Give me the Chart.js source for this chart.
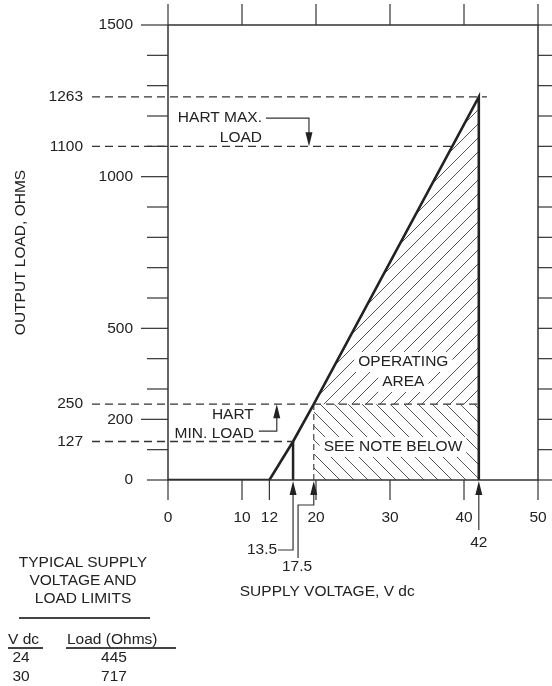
<!DOCTYPE html>
<html>
<head>
<meta charset="utf-8">
<script src="https://cdn.jsdelivr.net/npm/chart.js@4.4.1/dist/chart.umd.min.js"></script>
<style>
  html, body { margin: 0; padding: 0; background: #fff; }
  #wrap { position: relative; width: 552px; height: 686px; font-family: 'Liberation Sans', Arial, sans-serif; color: #222; }
  #wrap canvas { position: absolute; left: 0; top: 0; }
  .t { position: absolute; font-size: 15.5px; line-height: 18px; white-space: nowrap; }
  .rule { position: absolute; background: #444; height: 1.5px; }
</style>
</head>
<body>
<div id="wrap">
  <canvas id="chart" width="552" height="686"></canvas>
</div>
<script>
// The source drawing is not to scale: break points are placed where they sit on the
// voltage axis, the printed values go in the tick / marker label arrays.
const xTickValues = [0, 10, 13.7, 20, 30, 40, 50]
const xTickLabels = ['0', '10', '12', '20', '30', '40', '50']
const yTickValues = [0, 200, 500, 1000, 1500]
const refOhms = [127, 250, 1100, 1263]
const refEndVolts = [16.9, 42, 38.5, 43.1]

const loadVolts = [0, 13.7, 16.9, 19.7, 42, 42]
const loadOhms = [0, 0, 127, 250, 1263, 0]

const markerVolts = [16.9, 19.7, 42]
const markerLabels = ['13.5', '17.5', '42']

const hartMinOhms = 250
const hartMaxOhms = 1100
const minLoadOhms = 127

const tableVolts = ['24', '30']
const tableLoads = ['445', '717']

const FONT = "'Liberation Sans', Arial, sans-serif"
const INK = '#222'

Chart.defaults.font.family = FONT
Chart.defaults.font.size = 15.5
Chart.defaults.color = INK

function hatch(dir) {
  const s = 14
  const c = document.createElement('canvas')
  c.width = s
  c.height = s
  const g = c.getContext('2d')
  g.strokeStyle = '#555'
  g.lineWidth = 1
  g.beginPath()
  if (dir === '/') {
    g.moveTo(0, s); g.lineTo(s, 0)
    g.moveTo(-1, 1); g.lineTo(1, -1)
    g.moveTo(s - 1, s + 1); g.lineTo(s + 1, s - 1)
  } else {
    g.moveTo(0, 0); g.lineTo(s, s)
    g.moveTo(-1, s - 1); g.lineTo(1, s + 1)
    g.moveTo(s - 1, -1); g.lineTo(s + 1, 1)
  }
  g.stroke()
  return g.createPattern(c, 'repeat')
}

const pts = (xs, ys) => xs.map((v, i) => ({ x: v, y: ys[i] }))
const hartIdx = loadOhms.indexOf(hartMinOhms)
const topIdx = loadOhms.indexOf(Math.max(...loadOhms))

const datasets = [
  {
    id: 'opArea',
    data: pts(loadVolts.slice(hartIdx, topIdx + 1), loadOhms.slice(hartIdx, topIdx + 1)),
    fill: { value: hartMinOhms },
    backgroundColor: hatch('/'),
    borderWidth: 0,
    order: 11,
  },
  {
    id: 'noteArea',
    data: pts([loadVolts[hartIdx], loadVolts[topIdx]], [hartMinOhms, hartMinOhms]),
    fill: 'origin',
    backgroundColor: hatch('\\'),
    borderWidth: 0,
    order: 10,
  },
  {
    id: 'minLoad',
    data: pts([markerVolts[0], markerVolts[0]], [0, minLoadOhms]),
    borderColor: INK,
    borderWidth: 2.5,
    order: 1,
  },
  {
    id: 'hartLine',
    data: pts([markerVolts[1], markerVolts[1]], [0, hartMinOhms]),
    borderColor: '#444',
    borderWidth: 1.2,
    borderDash: [6, 4],
    order: 1,
  },
  {
    id: 'load',
    data: pts(loadVolts, loadOhms),
    borderColor: INK,
    borderWidth: 2.6,
    borderJoinStyle: 'miter',
    order: 0,
  },
]

function text(ctx, s, x, y, align, clear) {
  ctx.font = '15.5px ' + FONT
  ctx.textBaseline = 'middle'
  ctx.textAlign = align || 'center'
  if (clear) {
    const w = ctx.measureText(s).width
    const x0 = align === 'right' ? x - w : align === 'left' ? x : x - w / 2
    ctx.fillStyle = '#fff'
    ctx.fillRect(x0 - 4, y - 10, w + 8, 20)
  }
  ctx.fillStyle = INK
  ctx.fillText(s, x, y)
}

function line(ctx, path, width, dash) {
  ctx.save()
  ctx.strokeStyle = '#333'
  ctx.lineWidth = width
  ctx.setLineDash(dash || [])
  ctx.beginPath()
  path.forEach(([px, py], i) => (i ? ctx.lineTo(px, py) : ctx.moveTo(px, py)))
  ctx.stroke()
  ctx.restore()
}

function arrow(ctx, x, tip, dir) {
  ctx.fillStyle = INK
  ctx.beginPath()
  ctx.moveTo(x, tip)
  ctx.lineTo(x - 3.5, tip + dir * 14)
  ctx.lineTo(x + 3.5, tip + dir * 14)
  ctx.closePath()
  ctx.fill()
}

// axes keep the exact box given by afterFit, no extra room for overhanging labels
function noOverhang(s) {
  s.paddingTop = 0
  s.paddingBottom = 0
  s.paddingLeft = 0
  s.paddingRight = 0
}

const overlay = {
  id: 'overlay',
  afterDatasetsDraw(chart) {
    const { ctx, chartArea: a, scales } = chart
    const px = (v) => scales.x.getPixelForValue(v)
    const py = (r) => scales.y.getPixelForValue(r)
    ctx.save()

    // frame and tick marks
    line(ctx, [[a.left, a.top], [a.right, a.top], [a.right, a.bottom], [a.left, a.bottom], [a.left, a.top]], 1.5)
    for (let r = scales.y.min; r <= scales.y.max; r += 100) {
      const long = yTickValues.includes(r) && r !== 0
      line(ctx, [[a.left - (long ? 27 : 21), py(r)], [a.left, py(r)]], 1.2)
      line(ctx, [[a.right, py(r)], [a.right + 14, py(r)]], 1.2)
    }
    for (let v = scales.x.min; v <= scales.x.max; v += 10) {
      line(ctx, [[px(v), a.top - 21], [px(v), a.top]], 1.2)
    }
    xTickValues.forEach((v) => line(ctx, [[px(v), a.bottom], [px(v), a.bottom + 20]], 1.2))

    // dashed reference levels, starting next to their labels
    refOhms.forEach((r, i) => {
      line(ctx, [[scales.yRef.right + 4, py(r)], [px(refEndVolts[i]), py(r)]], 1.3, [8, 5])
    })

    // area labels
    text(ctx, 'OPERATING', px(31.8), py(389), 'center', true)
    text(ctx, 'AREA', px(31.8), py(323), 'center', true)
    text(ctx, 'SEE NOTE BELOW', px(30.4), py(109), 'center', true)

    // HART max. load
    text(ctx, 'HART MAX.', px(12.7), py(1193), 'right')
    text(ctx, 'LOAD', px(12.7), py(1128), 'right')
    line(ctx, [[px(12.7) + 4, py(1193)], [px(19.05), py(1193)], [px(19.05), py(hartMaxOhms) - 12]], 1.2)
    arrow(ctx, px(19.05), py(hartMaxOhms), -1)

    // HART min. load
    text(ctx, 'HART', px(11.6), py(214), 'right')
    text(ctx, 'MIN. LOAD', px(11.6), py(152), 'right')
    line(ctx, [[px(11.6) + 5, py(161)], [px(14.7), py(161)], [px(14.7), py(hartMinOhms) + 12]], 1.2)
    arrow(ctx, px(14.7), py(hartMinOhms), 1)

    // voltage markers under the axis
    const b = a.bottom
    const [m0, m1, m2] = markerVolts.map(px)
    line(ctx, [[m0 - 15, b + 70], [m0, b + 70], [m0, b + 12]], 1.2)
    arrow(ctx, m0, b + 1, 1)
    text(ctx, markerLabels[0], m0 - 16, b + 70, 'right')

    line(ctx, [[m0 + 5, b + 78], [m0 + 5, b + 25], [m1, b + 25], [m1, b + 12]], 1.2)
    arrow(ctx, m1, b + 1, 1)
    text(ctx, markerLabels[1], m0 + 4, b + 87, 'center')

    line(ctx, [[m2, b + 50], [m2, b + 12]], 1.2)
    arrow(ctx, m2, b + 1, 1)
    text(ctx, markerLabels[2], m2, b + 63, 'center')

    // axis title sits left of centre in the source drawing
    text(ctx, 'SUPPLY VOLTAGE, V dc', px(9.7), b + 112, 'left')

    ctx.restore()
  },
}

new Chart(document.getElementById('chart'), {
  type: 'line',
  data: { datasets },
  options: {
    responsive: false,
    animation: false,
    events: [],
    layout: { padding: { top: 25, right: 14, left: 0, bottom: 0 } },
    elements: { point: { radius: 0 }, line: { tension: 0 } },
    plugins: { legend: { display: false }, tooltip: { enabled: false } },
    scales: {
      x: {
        type: 'linear',
        min: 0,
        max: 50,
        grid: { display: false, drawTicks: false },
        border: { display: false },
        afterBuildTicks: (s) => { s.ticks = xTickValues.map((v) => ({ value: v })) },
        afterFit: (s) => { s.height = 206; noOverhang(s) },
        ticks: { autoSkip: false, maxRotation: 0, padding: 28, callback: (v, i) => xTickLabels[i] },
      },
      y: {
        type: 'linear',
        min: 0,
        max: 1500,
        weight: 0,
        grid: { display: false, drawTicks: false },
        border: { display: false },
        afterBuildTicks: (s) => { s.ticks = yTickValues.map((v) => ({ value: v })) },
        afterFit: (s) => { s.width = 80; noOverhang(s) },
        ticks: { autoSkip: false, padding: 35, callback: (v) => String(v) },
      },
      yRef: {
        type: 'linear',
        position: 'left',
        min: 0,
        max: 1500,
        weight: 1,
        grid: { display: false, drawTicks: false },
        border: { display: false },
        afterBuildTicks: (s) => { s.ticks = refOhms.map((v) => ({ value: v })) },
        afterFit: (s) => { s.width = 88; noOverhang(s) },
        ticks: { autoSkip: false, padding: 5, callback: (v) => String(v) },
        title: { display: true, text: 'OUTPUT LOAD, OHMS', padding: { top: 11, bottom: 0 } },
      },
    },
  },
  plugins: [overlay],
})

// typical supply voltage and load limits table
const wrap = document.getElementById('wrap')
function put(html, left, top, width, align, cls) {
  const d = document.createElement('div')
  d.className = cls || 't'
  d.style.left = left + 'px'
  d.style.top = top + 'px'
  if (width) d.style.width = width + 'px'
  if (align) d.style.textAlign = align
  d.innerHTML = html
  wrap.appendChild(d)
  return d
}
put('TYPICAL SUPPLY<br>VOLTAGE AND<br>LOAD LIMITS', 0, 553, 166, 'center')
put('', 19, 617, 131, null, 'rule')
put('V dc', 8, 630)
put('', 8, 647, 35, null, 'rule')
put('Load (Ohms)', 67, 630)
put('', 66, 647, 110, null, 'rule')
tableVolts.forEach((v, i) => {
  put(v, 1, 648 + i * 19, 40, 'center')
  put(tableLoads[i], 84, 648 + i * 19, 60, 'center')
})
</script>
</body>
</html>
